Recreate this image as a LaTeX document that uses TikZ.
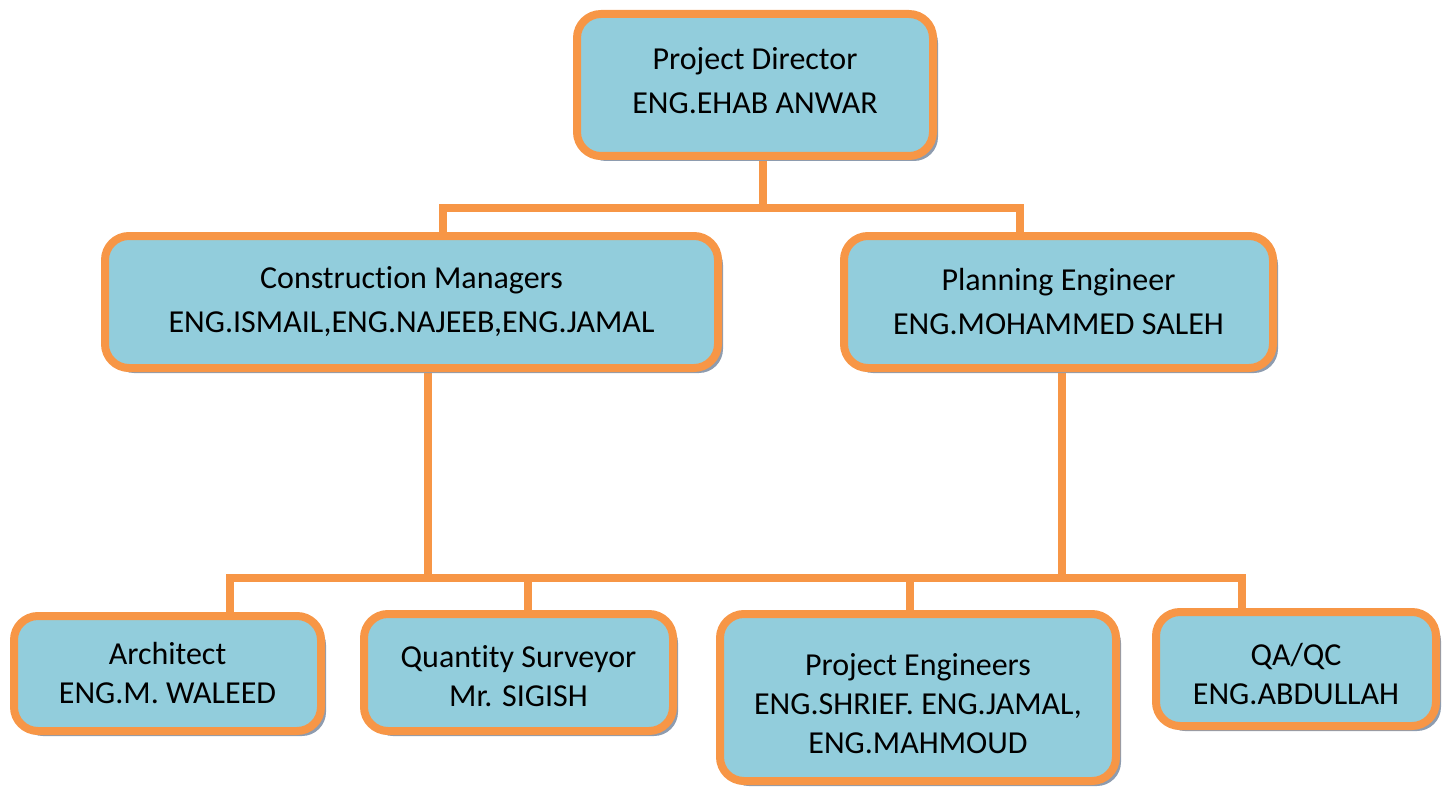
\documentclass[tikz,border=0pt]{standalone}
\usepackage{fontspec}
\setmainfont{Carlito}[Ligatures=NoCommon]
\usetikzlibrary{shadows,backgrounds}

\definecolor{boxfill}{HTML}{92CDDC}
\definecolor{boxline}{HTML}{F79646}
\definecolor{boxshade}{HTML}{8E9CAF}

% struts to nudge a text block up or down inside its box
\newcommand{\lift}[1]{\rule[-#1]{0pt}{#1}}
\newcommand{\drop}[1]{\rule{0pt}{#1}}

\begin{document}
\begin{tikzpicture}[x=0.5pt, y=-0.5pt,
	box/.style={draw=boxline, fill=boxfill, line width=4pt, rounded corners=12pt,
		inner sep=0pt, align=center, font=\fontsize{16}{22}\selectfont,
		drop shadow={shadow xshift=2.5pt, shadow yshift=-2.5pt, fill=boxshade, opacity=1}},
	small/.style={font=\fontsize{16}{19.5}\selectfont},
	link/.style={draw=boxline, line width=4pt}]
	\useasboundingbox (0,0) rectangle (1447,792);

	% Nodes {pd, cm, pe, ar, qs, pj, qa}
	\node [box, minimum width=178pt, minimum height=71pt]	(pd) at (755,85)
	{Project Director\\ENG.EHAB ANWAR\lift{5pt}};
	\node [box, minimum width=306.5pt, minimum height=66pt]	(cm) at (411.5,302)
	{Construction Managers\\ENG.ISMAIL,ENG.NAJEEB,ENG.JAMAL};
	\node [box, minimum width=214.5pt, minimum height=66pt]	(pe) at (1058.5,302)
	{Planning Engineer\\ENG.MOHAMMED SALEH};
	\node [box, small, minimum width=153.5pt, minimum height=57.5pt]	(ar) at (167.5,673.5)
	{Architect\\ENG.M. WALEED};
	\node [box, small, minimum width=154.5pt, minimum height=58.5pt]	(qs) at (518.5,672.5)
	{\drop{15pt}Quantity Surveyor\\Mr. SIGISH};
	\node [box, small, minimum width=198pt, minimum height=83.5pt]	(pj) at (918,697.5)
	{\drop{17.5pt}Project Engineers\\ENG.SHRIEF. ENG.JAMAL,\\ENG.MAHMOUD};
	\node [box, small, minimum width=140pt, minimum height=57pt]	(qa) at (1296,669)
	{\drop{16pt}QA/QC\\ENG.ABDULLAH};

	% Junctions on the two bars
	\coordinate (top) at (763,208);
	\coordinate (tl) at (443,208);
	\coordinate (tr) at (1020,208);
	\coordinate (bl) at (230,578);
	\coordinate (br) at (1242,578);
	\coordinate (cmdrop) at (428,578);
	\coordinate (pedrop) at (1062,578);
	\coordinate (qsdrop) at (528,578);
	\coordinate (pjdrop) at (910,578);

	% Paths
	\begin{scope}[on background layer]
		\path [link] (pd.south -| top) -- (top);
		\path [link] (cm.north -| tl) |- (tr) -- (pe.north -| tr);
		\path [link] (cm.south -| cmdrop) -- (cmdrop);
		\path [link] (pe.south -| pedrop) -- (pedrop);
		\path [link] (ar.north -| bl) |- (br) -- (qa.north -| br);
		\path [link] (qsdrop) -- (qs.north -| qsdrop);
		\path [link] (pjdrop) -- (pj.north -| pjdrop);
	\end{scope}
\end{tikzpicture}
\end{document}
